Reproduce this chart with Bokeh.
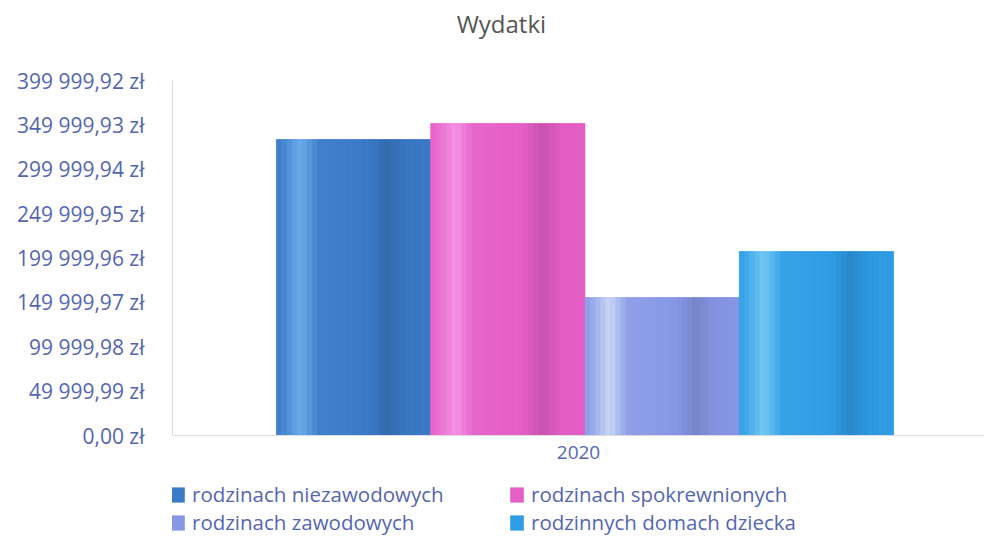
import numpy as np
from bokeh.plotting import figure
from bokeh.models import ColumnDataSource, FixedTicker, Legend, LegendItem, Label
from bokeh.transform import dodge
from bokeh.embed import file_html
from bokeh.resources import INLINE

years = ["2020"]
series = ["rodzinach niezawodowych", "rodzinach spokrewnionych",
          "rodzinach zawodowych", "rodzinnych domach dziecka"]
values = [333500, 351500, 155500, 207300]
colors = ["#3b7ac7", "#e55fc7", "#8797e6", "#2f9de5"]
highlights = ["#7cbcf6", "#fba6f0", "#e2ecfb", "#8cd8fa"]
tick_values = [0, 49999.99, 99999.98, 149999.97, 199999.96, 249999.95,
               299999.94, 349999.93, 399999.92]
tick_labels = ["0,00 zł", "49 999,99 zł", "99 999,98 zł", "149 999,97 zł",
               "199 999,96 zł", "249 999,95 zł", "299 999,94 zł",
               "349 999,93 zł", "399 999,92 zł"]
title_text = "Wydatki"

FONT = "Open Sans"
LABEL_COLOR = "#5466b2"

# shading profile across a bar (style only): >0 toward highlight, <0 darker
shade_t = [0.0, 0.06, 0.16, 0.28, 0.45, 0.6, 0.72, 0.85, 1.0]
shade_k = [0.05, 0.25, 0.75, 0.1, 0.05, 0.0, -0.12, -0.02, 0.0]


def hex2rgb(h):
    h = h.lstrip("#")
    return np.array([int(h[i:i + 2], 16) for i in (0, 2, 4)], dtype=float)


def mix(base, hl, k):
    b = hex2rgb(base)
    if k >= 0:
        c = b + (hex2rgb(hl) - b) * k
    else:
        c = b * (1 + k)
    c = np.clip(c, 0, 255).astype(int)
    return "#%02x%02x%02x" % tuple(c)


# layout in pixels: 80 px above the value area (title), 355 px for values,
# 101 px below zero for the category label and the legend
TOP_PX = 80
PLOT_PX = 355
BELOW_PX = 101
y_top = tick_values[-1]
px = y_top / PLOT_PX
y_start = -BELOW_PX * px
y_end = y_top + TOP_PX * px

p = figure(x_range=years, y_range=(y_start, y_end),
           frame_width=812, frame_height=TOP_PX + PLOT_PX + BELOW_PX,
           output_backend="svg", toolbar_location=None,
           min_border_left=172, min_border_right=3, min_border_top=0,
           min_border_bottom=0)

p.add_layout(Label(x=0.405, y=y_top + 57 * px, text=title_text,
                   text_align="center", text_baseline="middle",
                   text_font=FONT, text_font_size="24px",
                   text_color="#555555"))

bar_w = 0.19
group_shift = 0.008
n = len(series)
n_strips = 30
items = []
for i, (name, val, col, hl) in enumerate(zip(series, values, colors, highlights)):
    off = (i - (n - 1) / 2) * bar_w + group_shift
    src = ColumnDataSource(dict(x=years, top=[val]))
    r = p.vbar(x=dodge("x", off, range=p.x_range), top="top", bottom=0,
               width=bar_w, source=src, fill_color=col, line_color=None)
    sw = bar_w / n_strips
    for j in range(n_strips):
        t = (j + 0.5) / n_strips
        c = mix(col, hl, float(np.interp(t, shade_t, shade_k)))
        p.vbar(x=dodge("x", off - bar_w / 2 + (j + 0.5) * sw, range=p.x_range),
               top="top", bottom=0, width=sw, source=src, fill_color=c,
               line_color=c, line_width=0.6)
    items.append(LegendItem(label=name, renderers=[r]))

legend = Legend(items=items, location=(-3, 0), ncols=2,
                orientation="horizontal",
                label_text_font=FONT, label_text_font_size="20.5px",
                label_text_color=LABEL_COLOR, glyph_width=17, glyph_height=19,
                label_height=19, label_width=316, spacing=0, padding=0,
                margin=0, border_line_color=None, background_fill_alpha=0,
                label_standoff=6)
p.add_layout(legend)

p.yaxis.ticker = FixedTicker(ticks=tick_values)
p.yaxis.bounds = (0, y_top)
p.yaxis.major_label_overrides = {v: l for v, l in zip(tick_values, tick_labels)}
p.yaxis.major_label_text_font = FONT
p.yaxis.major_label_text_font_size = "21px"
p.yaxis.major_label_text_color = LABEL_COLOR
p.yaxis.axis_line_color = "#d0dcee"
p.yaxis.major_tick_line_color = None
p.yaxis.minor_tick_line_color = None
p.yaxis.major_label_standoff = 22

p.xaxis.fixed_location = 0
p.xaxis.major_label_text_font = FONT
p.xaxis.major_label_text_font_size = "19px"
p.xaxis.major_label_text_color = LABEL_COLOR
p.xaxis.axis_line_color = "#dddddd"
p.xaxis.major_tick_line_color = None
p.xaxis.major_label_standoff = 4

p.xgrid.grid_line_color = None
p.ygrid.grid_line_color = None
p.outline_line_color = None
p.x_range.range_padding = 0.0

open("out.html", "w").write(file_html(p, INLINE))
